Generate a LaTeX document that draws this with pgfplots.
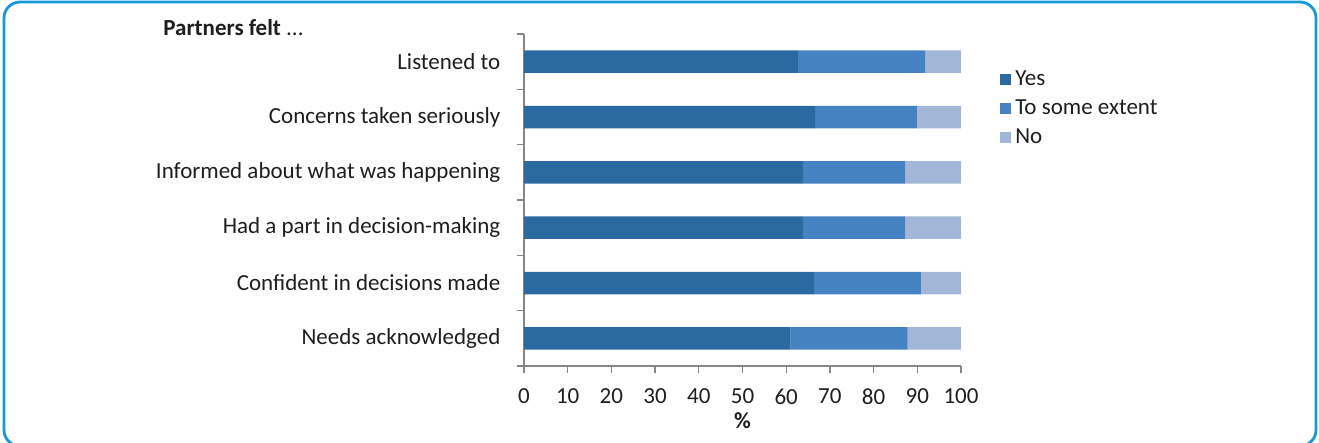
\documentclass[border=0pt]{standalone}
\usepackage{pgfplots}
\pgfplotsset{compat=1.18}
\usepackage{fontspec}
\setmainfont{Carlito}
\definecolor{cyes}{RGB}{43,106,161}
\definecolor{csome}{RGB}{69,130,193}
\definecolor{cno}{RGB}{162,183,216}
\definecolor{axgray}{RGB}{134,134,134}
\definecolor{framec}{RGB}{20,155,215}
\definecolor{txt}{RGB}{30,30,30}
\begin{document}
\fontsize{11.5}{13.5}\selectfont
\begin{tikzpicture}
\useasboundingbox (0pt,0pt) rectangle (659.5pt,-221.5pt);
\draw[framec, line width=1.4pt, rounded corners=8pt] (2pt,-1pt) rectangle (658pt,-223pt);
\node[anchor=base west, inner sep=0pt, text=txt] at (81.5pt,-18pt) {\textbf{Partners felt} ...};
\begin{axis}[
  at={(262pt,-183pt)}, anchor=south west,
  scale only axis, width=218.5pt, height=166pt,
  xbar stacked, bar width=11.25pt,
  xmin=0, xmax=100, ymin=-0.5, ymax=5.5,
  xtick={0,10,...,100},
  ytick={-0.5,0.5,...,5.5},
  yticklabels={},
  extra y ticks={0,1,2,3,4,5},
  extra y tick labels={Needs acknowledged, Confident in decisions made, Had a part in decision-making, Informed about what was happening, Concerns taken seriously, Listened to},
  extra y tick style={tick style={draw=none}},
  axis x line*=bottom, axis y line*=left,
  axis line style={draw=axgray, line width=0.6pt, -},
  tick align=outside,
  major tick length=3.5pt,
  tick style={draw=axgray, line width=0.6pt},
  /pgf/number format/assume math mode=true,
  ticklabel style={text=txt, font=\fontsize{11.5}{13.5}\selectfont},
  yticklabel style={xshift=-4.3pt},
  xticklabel style={yshift=-4pt},
  xlabel={\textbf{\%}},
  xlabel style={text=txt, yshift=4pt},
  legend cell align=left,
  legend style={draw=none, fill=none, at={(1.089,0.904)}, anchor=north west, inner sep=0pt, row sep=1.5pt, font=\fontsize{11.5}{13.5}\selectfont, text=txt},
  legend image code/.code={\fill[#1] (0pt,-2.75pt) rectangle (5.5pt,2.75pt);},
  clip=false,
]
\addplot+[draw=none, fill=cyes] coordinates {(61.0,0) (66.4,1) (63.8,2) (63.8,3) (66.6,4) (62.7,5)};
\addplot+[draw=none, fill=csome] coordinates {(26.8,0) (24.4,1) (23.4,2) (23.4,3) (23.3,4) (29.1,5)};
\addplot+[draw=none, fill=cno] coordinates {(12.2,0) (9.2,1) (12.8,2) (12.8,3) (10.1,4) (8.2,5)};
\legend{Yes, To some extent, No}
\draw[axgray, line width=0.6pt] (rel axis cs:0,0) -- ++(-3.5pt,0pt);
\end{axis}
\end{tikzpicture}
\end{document}
